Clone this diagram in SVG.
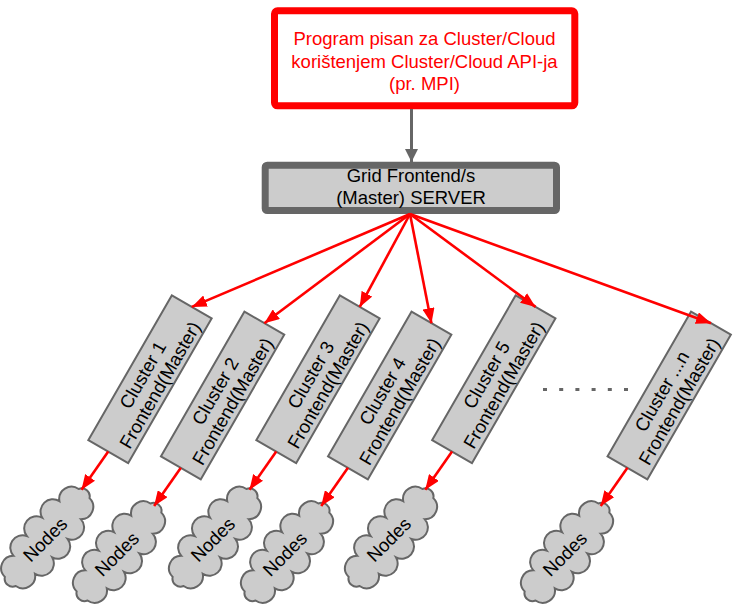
<svg xmlns="http://www.w3.org/2000/svg" xmlns:xlink="http://www.w3.org/1999/xlink" width="747" height="616" viewBox="0 0 747 616">
<style>
  text { font-family: "Liberation Sans", Arial, sans-serif; font-size: 18.5px; text-anchor: middle; }
  .red { fill: #ff0000; }
  .blk { fill: #000000; }
  .cluster { fill: #cccccc; stroke: #666666; stroke-width: 2; }
  .cloud { fill: #cccccc; stroke: #666666; stroke-width: 2; }
  .rline { stroke: #ff0000; stroke-width: 2.6; fill: none; marker-end: url(#rarrow); }
  .gline { stroke: #666666; stroke-width: 3; fill: none; marker-end: url(#garrow); }
</style>
<defs>
  <marker id="rarrow" viewBox="0 0 15 12" refX="15" refY="6" markerWidth="15" markerHeight="12" markerUnits="userSpaceOnUse" orient="auto">
    <path d="M0,0 L15,6 L0,12 Z" fill="#ff0000"/>
  </marker>
  <marker id="garrow" viewBox="0 0 13 13" refX="13" refY="6.5" markerWidth="13" markerHeight="13" markerUnits="userSpaceOnUse" orient="auto">
    <path d="M0,0 L13,6.5 L0,13 Z" fill="#666666"/>
  </marker>
  <path id="cloudshape" d="M57.4,7.1 A12.3,12.3 0 0 1 35.7,14 A12.3,12.3 0 0 1 12,16.7 A12.3,12.3 0 0 1 -12,16.7 A12.3,12.3 0 0 1 -35.7,14 A12.3,12.3 0 0 1 -57.4,7.1 A8,8 0 0 1 -57.4,-7.1 A12.3,12.3 0 0 1 -35.7,-14 A12.3,12.3 0 0 1 -12,-16.7 A12.3,12.3 0 0 1 12,-16.7 A12.3,12.3 0 0 1 35.7,-14 A12.3,12.3 0 0 1 57.4,-7.1 A8,8 0 0 1 57.4,7.1 Z"/>
</defs>

<g id="program">
  <rect x="274.5" y="10.8" width="300.3" height="95" rx="3" fill="#ffffff" stroke="#ff0000" stroke-width="7"/>
  <text class="red" x="424.5" y="45">Program pisan za Cluster/Cloud</text>
  <text class="red" x="424.5" y="67.5">korištenjem Cluster/Cloud API-ja</text>
  <text class="red" x="424.5" y="90">(pr. MPI)</text>
</g>

<g id="server">
  <rect x="265.2" y="165.2" width="291.3" height="45.3" rx="2" fill="#cccccc" stroke="#666666" stroke-width="7"/>
  <text class="blk" x="411" y="182">Grid Frontend/s</text>
  <text class="blk" x="411" y="204">(Master) SERVER</text>
</g>

<g id="cluster1" transform="translate(150,379.2) rotate(-60)">
  <rect class="cluster" x="-83.5" y="-23" width="167" height="46"/>
  <text class="blk" x="0" y="-2">Cluster 1</text>
  <text class="blk" x="0" y="18">Frontend(Master)</text>
</g>
<g id="cluster2" transform="translate(222.6,395.5) rotate(-60)">
  <rect class="cluster" x="-83.5" y="-23" width="167" height="46"/>
  <text class="blk" x="0" y="-2">Cluster 2</text>
  <text class="blk" x="0" y="18">Frontend(Master)</text>
</g>
<g id="cluster3" transform="translate(318,379.2) rotate(-60)">
  <rect class="cluster" x="-83.5" y="-23" width="167" height="46"/>
  <text class="blk" x="0" y="-2">Cluster 3</text>
  <text class="blk" x="0" y="18">Frontend(Master)</text>
</g>
<g id="cluster4" transform="translate(389.7,395.5) rotate(-60)">
  <rect class="cluster" x="-83.5" y="-23" width="167" height="46"/>
  <text class="blk" x="0" y="-2">Cluster 4</text>
  <text class="blk" x="0" y="18">Frontend(Master)</text>
</g>
<g id="cluster5" transform="translate(493.8,379.2) rotate(-60)">
  <rect class="cluster" x="-83.5" y="-23" width="167" height="46"/>
  <text class="blk" x="0" y="-2">Cluster 5</text>
  <text class="blk" x="0" y="18">Frontend(Master)</text>
</g>
<g id="clustern" transform="translate(669.2,395.5) rotate(-60)">
  <rect class="cluster" x="-83.5" y="-23" width="167" height="46"/>
  <text class="blk" x="0" y="-2">Cluster ...n</text>
  <text class="blk" x="0" y="18">Frontend(Master)</text>
</g>

<g id="dots">
  <line x1="543" y1="389.5" x2="628" y2="389.5" stroke="#666666" stroke-width="3" stroke-dasharray="4 12.2"/>
</g>

<g id="nodes1">
  <use xlink:href="#cloudshape" class="cloud" transform="translate(47.2,537.5) rotate(-50)"/>
  <text class="blk" transform="translate(47.2,537.5) rotate(-45)" x="-3" y="6.5">Nodes</text>
</g>
<g id="nodes2">
  <use xlink:href="#cloudshape" class="cloud" transform="translate(119,552) rotate(-50)"/>
  <text class="blk" transform="translate(119,552) rotate(-45)" x="-3" y="6.5">Nodes</text>
</g>
<g id="nodes3">
  <use xlink:href="#cloudshape" class="cloud" transform="translate(215,537.5) rotate(-50)"/>
  <text class="blk" transform="translate(215,537.5) rotate(-45)" x="-3" y="6.5">Nodes</text>
</g>
<g id="nodes4">
  <use xlink:href="#cloudshape" class="cloud" transform="translate(287,552) rotate(-50)"/>
  <text class="blk" transform="translate(287,552) rotate(-45)" x="-3" y="6.5">Nodes</text>
</g>
<g id="nodes5">
  <use xlink:href="#cloudshape" class="cloud" transform="translate(391,537.5) rotate(-50)"/>
  <text class="blk" transform="translate(391,537.5) rotate(-45)" x="-3" y="6.5">Nodes</text>
</g>
<g id="nodesn">
  <use xlink:href="#cloudshape" class="cloud" transform="translate(567,552) rotate(-50)"/>
  <text class="blk" transform="translate(567,552) rotate(-45)" x="-3" y="6.5">Nodes</text>
</g>

<g id="connectors">
  <line class="gline" x1="411.5" y1="109" x2="411.5" y2="162"/>
  <line class="rline" x1="410" y1="214" x2="191.75" y2="306.9"/>
  <line class="rline" x1="410" y1="214" x2="264.35" y2="323.2"/>
  <line class="rline" x1="410" y1="214" x2="359.75" y2="306.9"/>
  <line class="rline" x1="410" y1="214" x2="431.45" y2="323.2"/>
  <line class="rline" x1="410" y1="214" x2="535.55" y2="306.9"/>
  <line class="rline" x1="410" y1="214" x2="710.95" y2="323.2"/>
  <line class="rline" x1="108.25" y1="451.5" x2="81.5" y2="489.7"/>
  <line class="rline" x1="180.85" y1="467.8" x2="154.1" y2="506"/>
  <line class="rline" x1="276.25" y1="451.5" x2="249.5" y2="489.7"/>
  <line class="rline" x1="347.95" y1="467.8" x2="321.2" y2="506"/>
  <line class="rline" x1="452.05" y1="451.5" x2="425.3" y2="489.7"/>
  <line class="rline" x1="627.45" y1="467.8" x2="600.7" y2="506"/>
</g>
</svg>
